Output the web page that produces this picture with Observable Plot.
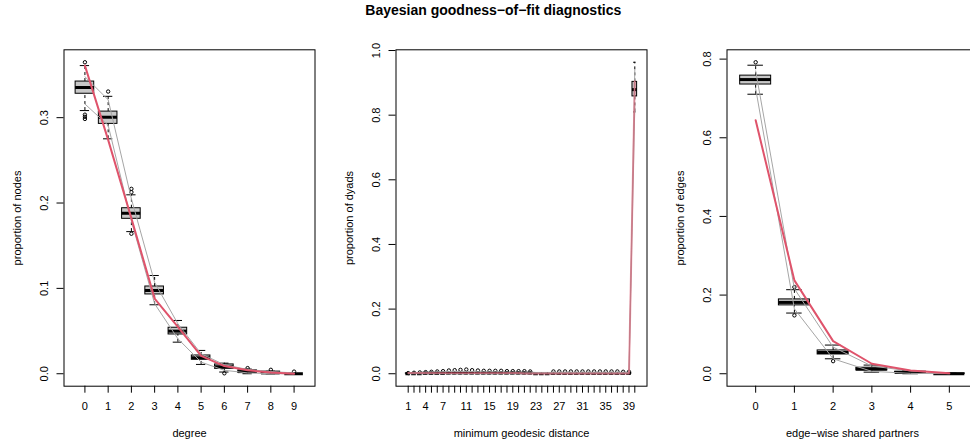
<!DOCTYPE html>
<html>
<head>
<meta charset="utf-8">
<script src="https://cdn.jsdelivr.net/npm/d3@7"></script>
<script src="https://cdn.jsdelivr.net/npm/@observablehq/plot@0.6"></script>
<style>
  html, body { margin: 0; padding: 0; background: #fff; }
  #fig { position: relative; width: 970px; height: 444px; overflow: hidden; background: #fff;
         font-family: "Liberation Sans", Arial, Helvetica, sans-serif; }
  #title { position: absolute; left: 0; top: 3px; width: 986.6px; text-align: center;
           font-weight: bold; font-size: 14px; line-height: 14px; color: #000; z-index: 2; }
  .panel { position: absolute; top: 0; }
</style>
</head>
<body>
<div id="fig">
  <div id="title">Bayesian goodness−of−fit diagnostics</div>
</div>
<script>
// ---- degree distribution ----
const degreeCats   = ["0","1","2","3","4","5","6","7","8","9"];
const degreeQ1     = [0.328, 0.2927, 0.1815, 0.0929, 0.046, 0.0164, 0.0058, 0.001, 0.0, 0.0];
const degreeMed    = [0.3353, 0.3005, 0.188, 0.0975, 0.0499, 0.0187, 0.0082, 0.0025, 0.001, 0.0];
const degreeQ3     = [0.3423, 0.3071, 0.1939, 0.1022, 0.0539, 0.0214, 0.0109, 0.004, 0.0025, 0.0];
const degreeLo     = [0.3083, 0.2752, 0.1665, 0.0808, 0.037, 0.0109, 0.002, 0.0, 0.0, 0.0];
const degreeHi     = [0.361, 0.325, 0.2096, 0.1151, 0.0624, 0.0273, 0.0124, 0.0055, 0.003, 0.0];
const degreeOut    = [[0,0.3649],[0,0.3035],[0,0.301],[0,0.2985],[1,0.3306],[2,0.2166],[2,0.2127],[2,0.164],[6,0.0005],[7,0.0066],[8,0.0046],[9,0.0025]];
const degreeSimHi  = [0.348, 0.321, 0.205, 0.107, 0.0585, 0.0234, 0.0105, 0.005, 0.0025, 0.001];
const degreeSimLo  = [0.316, 0.291, 0.179, 0.082, 0.041, 0.0136, 0.004, 0.001, 0.0, 0.0];
const degreeObs    = [0.361, 0.274, 0.182, 0.088, 0.055, 0.021, 0.009, 0.004, 0.0015, 0.0];
const degreeTicks  = ["0","1","2","3","4","5","6","7","8","9"];

// ---- minimum geodesic distance (last category: not reachable) ----
const distCats  = ["1","2","3","4","5","6","7","8","9","10","11","12","13","14","15","16","17","18","19","20",
                   "21","22","23","24","25","26","27","28","29","30","31","32","33","34","35","36","37","38","39","NR"];
const distQ1    = [0,0,0,0,0,0,0,0,0,0,0,0,0,0,0,0,0,0,0,0,0,0,0,0,0,0,0,0,0,0,0,0,0,0,0,0,0,0,0,0.858];
const distMed   = [0,0,0,0.001,0.001,0.001,0.001,0.002,0.002,0.002,0.002,0.002,0.002,0.002,0.002,0.002,0.002,0.002,0.002,0.002,
                   0.002,0.002,0,0,0,0.001,0.001,0.001,0.001,0.001,0.001,0.001,0.001,0.001,0.001,0.001,0.001,0.001,0.001,0.879];
const distQ3    = [0.001,0.001,0.001,0.003,0.003,0.003,0.003,0.004,0.004,0.004,0.004,0.004,0.003,0.003,0.003,0.003,0.003,0.003,0.003,0.003,
                   0.003,0.003,0.001,0.001,0.001,0.002,0.002,0.002,0.002,0.002,0.002,0.002,0.002,0.002,0.002,0.002,0.002,0.002,0.002,0.903];
const distLo    = [0,0,0,0,0,0,0,0,0,0,0,0,0,0,0,0,0,0,0,0,0,0,0,0,0,0,0,0,0,0,0,0,0,0,0,0,0,0,0,0.81];
const distHi    = [0.002,0.002,0.002,0.005,0.005,0.005,0.005,0.007,0.007,0.007,0.007,0.007,0.006,0.006,0.006,0.006,0.006,0.006,0.006,0.006,
                   0.006,0.006,0.002,0.002,0.002,0.004,0.004,0.004,0.004,0.004,0.004,0.004,0.004,0.004,0.004,0.004,0.004,0.004,0.004,0.9637];
const distOutVals = [0.002,0.003,0.004,0.005,0.006,0.007,0.008,0.010,0.011,0.012,0.013,0.011,0.010,0.009,0.009,0.009,0.009,0.008,0.008,0.008,
                     0.008,0.007,null,null,null,0.007,0.007,0.007,0.007,0.007,0.007,0.007,0.007,0.007,0.007,0.007,0.007,0.006,0.006,null];
const distSimHi = [0.003,0.003,0.004,0.005,0.005,0.006,0.006,0.007,0.007,0.007,0.007,0.007,0.006,0.006,0.006,0.006,0.006,0.005,0.005,0.005,
                   0.005,0.005,0.004,0.004,0.004,0.004,0.004,0.004,0.004,0.004,0.004,0.004,0.004,0.004,0.004,0.004,0.004,0.004,0.004,0.94];
const distSimLo = [0,0,0,0,0,0,0,0,0,0,0,0,0,0,0,0,0,0,0,0,0,0,0,0,0,0,0,0,0,0,0,0,0,0,0,0,0,0,0,0.83];
const distObs   = [0.002,0.002,0.002,0.002,0.002,0.002,0.002,0.002,0.002,0.002,0.002,0.002,0.002,0.002,0.002,0.002,0.002,0.002,0.002,0.002,
                   0.001,0.001,0.001,0.001,0.001,0.001,0.001,0.001,0.001,0.001,0.001,0.001,0.001,0.001,0.001,0.001,0.001,0.001,0.001,0.905];
const distTicks = ["1","4","7","11","15","19","23","27","31","35","39"];

// ---- edge-wise shared partners ----
const espCats  = ["0","1","2","3","4","5"];
const espQ1    = [0.7354, 0.1738, 0.049, 0.0084, 0.002, 0.0];
const espMed   = [0.748, 0.1814, 0.054, 0.0118, 0.0035, 0.0];
const espQ3    = [0.758, 0.189, 0.0593, 0.0153, 0.005, 0.0005];
const espLo    = [0.7107, 0.1543, 0.038, 0.004, 0.0, 0.0];
const espHi    = [0.7845, 0.2137, 0.0729, 0.022, 0.008, 0.0015];
const espOut   = [[0,0.792],[1,0.2204],[1,0.1484],[2,0.032]];
const espSimHi = [0.77, 0.216, 0.0677, 0.0195, 0.007, 0.001];
const espSimLo = [0.725, 0.165, 0.038, 0.006, 0.001, 0.0];
const espObs   = [0.6446, 0.2374, 0.083, 0.0254, 0.0084, 0.001];
const espTicks = ["0","1","2","3","4","5"];

const RED = "#DF536B";
const SIM = "#a6a6a6";
const BOXFILL = "#c8c8c8";

// One diagnostic panel: boxplots of simulated statistics, simulation bands, observed line
function panel(o) {
  const n = o.cats.length;
  const pos = o.cats.map((_, i) => i + 1);
  const rows = pos.map((p, i) => ({p, q1: o.q1[i], med: o.med[i], q3: o.q3[i], lo: o.lo[i], hi: o.hi[i]}));
  const outs = o.out.map(([i, v]) => ({p: i + 1, v}));
  const series = arr => pos.map((p, i) => ({p, v: arr[i]}));
  const ext = d3.extent([...o.lo, ...o.hi, ...outs.map(d => d.v)]);
  const r = ext[1] - ext[0];
  const yDomain = [ext[0] - 0.04 * r, ext[1] + 0.04 * r];
  const xDomain = [0.5 - 0.04 * n, n + 0.5 + 0.04 * n];
  const labelled = pos.filter((p, i) => o.tickLabels.includes(o.cats[i]))
                      .map(p => ({p, t: o.cats[p - 1]}));
  return Plot.plot({
    width: 331.5, height: 444,
    marginLeft: 63.5, marginRight: 17, marginTop: 49.3, marginBottom: 58.3,
    x: {domain: xDomain, axis: null},
    y: {domain: yDomain, axis: null},
    style: {fontFamily: '"Liberation Sans", Arial, Helvetica, sans-serif', fontSize: "11px", color: "#000", background: "transparent", overflow: "visible"},
    marks: [
      // whiskers
      Plot.ruleX(rows, {x: "p", y1: "q3", y2: "hi", stroke: "#000", strokeWidth: 1, strokeDasharray: "3,3"}),
      Plot.ruleX(rows, {x: "p", y1: "lo", y2: "q1", stroke: "#000", strokeWidth: 1, strokeDasharray: "3,3"}),
      // staples
      Plot.ruleY(rows, {y: "hi", x1: d => d.p - 0.2, x2: d => d.p + 0.2, stroke: "#000", strokeWidth: 1}),
      Plot.ruleY(rows, {y: "lo", x1: d => d.p - 0.2, x2: d => d.p + 0.2, stroke: "#000", strokeWidth: 1}),
      // boxes and medians
      Plot.rect(rows, {x1: d => d.p - 0.4, x2: d => d.p + 0.4, y1: "q1", y2: "q3", fill: BOXFILL, stroke: "#000", strokeWidth: 1}),
      Plot.ruleY(rows, {y: "med", x1: d => d.p - 0.4, x2: d => d.p + 0.4, stroke: "#000", strokeWidth: 3}),
      // outliers
      Plot.dot(outs, {x: "p", y: "v", r: 1.7, stroke: "#000", strokeWidth: 1, fill: "none"}),
      // simulation bands and observed statistic
      Plot.line(series(o.simHi), {x: "p", y: "v", stroke: SIM, strokeWidth: 1}),
      Plot.line(series(o.simLo), {x: "p", y: "v", stroke: SIM, strokeWidth: 1}),
      Plot.line(series(o.obs), {x: "p", y: "v", stroke: RED, strokeWidth: 2, strokeOpacity: o.obsOpacity ?? 1}),
      Plot.frame({stroke: "#000", strokeWidth: 1}),
      // axes
      Plot.axisX({ticks: pos, tickSize: 7, tickFormat: () => "", label: null, stroke: "#000"}),
      Plot.axisY({ticks: o.yTicks, tickSize: 7, tickFormat: () => "", label: null, stroke: "#000"}),
      Plot.text(labelled, {x: "p", text: "t", frameAnchor: "bottom", dy: 20, textAnchor: "middle", lineAnchor: "middle", fill: "#000"}),
      Plot.text(o.yTicks, {y: d => d, text: d => d.toFixed(1), frameAnchor: "left", dx: -20, rotate: -90, textAnchor: "middle", lineAnchor: "middle", fill: "#000"}),
      Plot.text([o.xlab], {text: d => d, frameAnchor: "bottom", dy: 47.3, textAnchor: "middle", lineAnchor: "middle", fill: "#000"}),
      Plot.text([o.ylab], {text: d => d, frameAnchor: "left", dx: -47, rotate: -90, textAnchor: "middle", lineAnchor: "middle", fill: "#000"})
    ]
  });
}

const distOut = distOutVals.map((v, i) => [i, v]).filter(d => d[1] !== null);

const panels = [
  panel({cats: degreeCats, q1: degreeQ1, med: degreeMed, q3: degreeQ3, lo: degreeLo, hi: degreeHi, out: degreeOut,
         simHi: degreeSimHi, simLo: degreeSimLo, obs: degreeObs, tickLabels: degreeTicks,
         yTicks: [0, 0.1, 0.2, 0.3], xlab: "degree", ylab: "proportion of nodes"}),
  panel({cats: distCats, q1: distQ1, med: distMed, q3: distQ3, lo: distLo, hi: distHi, out: distOut,
         simHi: distSimHi, simLo: distSimLo, obs: distObs, tickLabels: distTicks, obsOpacity: 0.55,
         yTicks: [0, 0.2, 0.4, 0.6, 0.8, 1.0], xlab: "minimum geodesic distance", ylab: "proportion of dyads"}),
  panel({cats: espCats, q1: espQ1, med: espMed, q3: espQ3, lo: espLo, hi: espHi, out: espOut,
         simHi: espSimHi, simLo: espSimLo, obs: espObs, tickLabels: espTicks,
         yTicks: [0, 0.2, 0.4, 0.6, 0.8], xlab: "edge−wise shared partners", ylab: "proportion of edges"})
];

const fig = document.getElementById("fig");
panels.forEach((svg, i) => {
  svg.classList.add("panel");
  svg.style.left = (i * 331.5) + "px";
  fig.appendChild(svg);
});
</script>
</body>
</html>
